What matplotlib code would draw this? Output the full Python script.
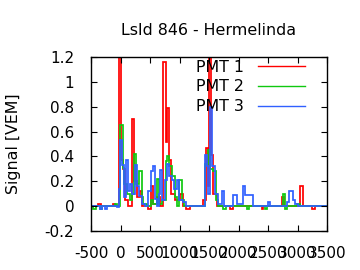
import numpy as np
import matplotlib
matplotlib.use("Agg")
import matplotlib.pyplot as plt

# Step traces of the three PMTs (time in ns, signal in VEM)
pmt1_edges = [-500, -376, -336, -133, -99, -20, 9, 37, 76, 122, 201, 235, 274, 331,
              365, 472, 511, 545, 613, 670, 726, 777, 794, 828, 850, 924, 1009, 1065,
              1110, 1178, 1404, 1450, 1478, 1502, 1532, 1574, 1630, 1856, 1901, 2393,
              2421, 2732, 2772, 3043, 3088, 3240, 3297, 3500]
pmt1_vals = [0.0, 0.02, 0.0, 0.015, 0.0, 2.0, 0.37, 0.3, 0.05, 0.0, 0.70, 0.2, 0.07,
             0.12, 0.0, -0.02, 0.16, 0.02, 0.07, 0.0, 1.16, 0.52, 0.79, 0.37, 0.1, 0.05,
             0.1, 0.0, -0.02, 0.0, 0.05, 0.47, 0.16, 2.0, 0.41, 0.1, 0.0, -0.02, 0.0,
             -0.02, 0.0, 0.075, 0.0, 0.16, 0.0, -0.02, 0.0]

pmt2_edges = [-500, -460, -415, -347, -319, -93, -53, -14, 37, 65, 105, 161, 189, 235,
              263, 319, 359, 387, 444, 511, 545, 613, 658, 698, 771, 794, 828, 867,
              924, 963, 997, 1037, 1076, 1438, 1489, 1517, 1562, 1619, 1658, 1743,
              1788, 2139, 2178, 2450, 2478, 2755, 2795, 2820, 2986, 3043, 3500]
pmt2_vals = [0.0, -0.02, 0.0, -0.02, 0.0, 0.02, 0.0, 0.65, 0.31, 0.18, 0.1, 0.05, 0.1,
             0.42, 0.18, 0.28, 0.07, 0.02, 0.0, 0.05, 0.02, 0.22, 0.02, 0.05, 0.36,
             0.40, 0.32, 0.24, 0.07, 0.0, 0.21, 0.05, 0.0, 0.34, 0.45, 0.3, 0.28, 0.05,
             0.0, -0.02, 0.0, -0.02, 0.0, -0.02, 0.0, 0.1, -0.02, 0.0, 0.02, 0.0]

pmt3_edges = [-500, -347, -319, -263, -234, -53, -20, -8, 31, 65, 88, 133, 161, 189,
              246, 274, 319, 359, 415, 472, 511, 557, 585, 624, 658, 675, 709, 754,
              794, 828, 867, 907, 952, 997, 1065, 1110, 1433, 1461, 1489, 1510, 1556,
              1601, 1658, 1715, 1755, 1901, 1969, 2082, 2116, 2251, 2506, 2534, 2817,
              2862, 2930, 2958, 3015, 3500]
pmt3_vals = [0.0, -0.02, 0.0, -0.02, 0.0, -0.01, 0.14, 0.53, 0.33, 0.07, 0.37, 0.12,
             0.18, 0.1, 0.33, 0.16, 0.08, 0.02, 0.0, 0.12, 0.28, 0.32, 0.06, 0.0, 0.1,
             0.29, 0.05, 0.21, 0.34, 0.24, 0.21, 0.14, 0.21, 0.05, 0.03, 0.0, 0.41,
             0.32, 0.1, 0.8, 0.32, 0.1, 0.02, 0.12, 0.0, 0.09, 0.02, 0.16, 0.09, 0.0,
             0.03, 0.0, 0.03, 0.12, 0.05, 0.02, 0.0]

labels = ["PMT 1", "PMT 2", "PMT 3"]
colors = ["#ff0000", "#10c810", "#3060ff"]

x_ticks = np.arange(-500, 3501, 500)
y_ticks = np.arange(-0.2, 1.21, 0.2)

plt.rcParams["axes.unicode_minus"] = False
plt.rcParams["font.size"] = 11

fig = plt.figure(figsize=(3.6, 2.7), dpi=100)
ax = fig.add_axes([0.2528, 0.1444, 0.6556, 0.6444])

traces = [(pmt1_edges, pmt1_vals), (pmt2_edges, pmt2_vals), (pmt3_edges, pmt3_vals)]
for (e, v), lab, c in zip(traces, labels, colors):
    ax.stairs(v, e, color=c, linewidth=1.25, label=lab, baseline=None)

ax.set_xlim(-500, 3500)
ax.set_ylim(-0.2, 1.2)
ax.set_xticks(x_ticks)
ax.set_yticks(y_ticks)
ax.set_yticklabels(["%g" % round(v, 1) for v in y_ticks])
ax.tick_params(direction="in", length=4, width=0.8, top=True, right=True)
ax.tick_params(axis="x", pad=11)
ax.tick_params(axis="y", pad=12)
for s in ax.spines.values():
    s.set_linewidth(1.0)

ax.set_title("LsId 846 - Hermelinda", fontsize=11.4, pad=16)
ax.set_ylabel("Signal [VEM]", fontsize=11.4, labelpad=17)

leg = ax.legend(loc="upper right", bbox_to_anchor=(0.907, 0.985), frameon=False,
                markerfirst=False, handlelength=2.97, handletextpad=0.9,
                labelspacing=0.3, borderaxespad=0, borderpad=0, fontsize=11.4)
for h in leg.legend_handles:
    h.set_linewidth(1.0)

plt.savefig("out.png", dpi=100)
